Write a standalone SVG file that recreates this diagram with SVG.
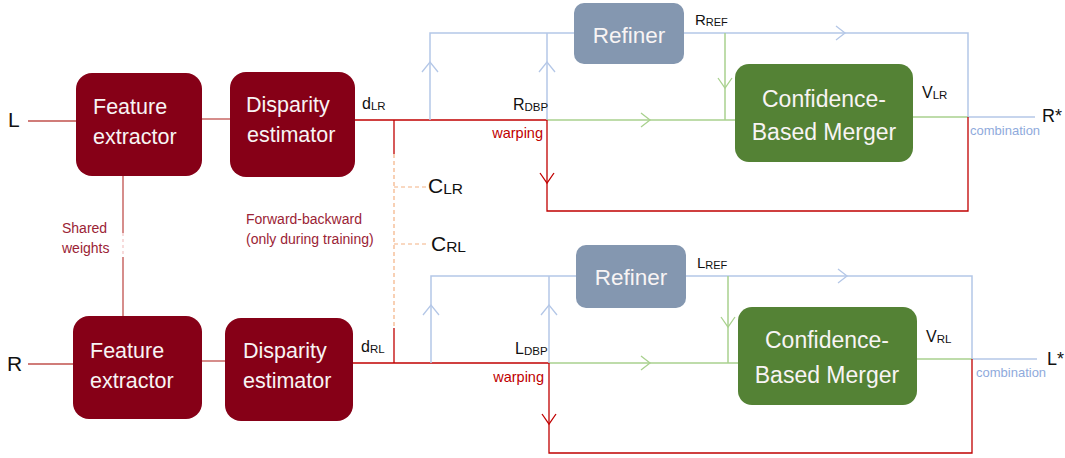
<svg xmlns="http://www.w3.org/2000/svg" width="1065" height="458" viewBox="0 0 1065 458">
<style>
text{font-family:"Liberation Sans",Arial,sans-serif}
.dr{fill:#860017}
.ref{fill:#8497b0}
.mg{fill:#548235}
.wt{fill:#f8f4f4}
.bk{fill:#111111}
.lr{stroke:#c0504d;stroke-width:1.3;fill:none}
.rd{stroke:#c00000;stroke-width:1.3;fill:none}
.bl{stroke:#b4c7e7;stroke-width:1.5;fill:none}
.gr{stroke:#a9d18e;stroke-width:1.5;fill:none}
.or{stroke:#f4b183;stroke-width:1.2;stroke-dasharray:4 3;fill:none}
.sw{stroke:#f2c4c4;stroke-width:1.2;stroke-dasharray:3 3;fill:none}
.ch{stroke-width:1.3;fill:none}
.nt{fill:#9b2335;font-size:14px}
</style>
<g id="connectors">
<line class="lr" x1="28" y1="121" x2="76" y2="121"/>
<line class="lr" x1="202" y1="119" x2="230" y2="119"/>
<line class="lr" x1="28" y1="364" x2="73" y2="364"/>
<line class="lr" x1="202" y1="361" x2="225" y2="361"/>
<line class="lr" x1="123" y1="176" x2="123" y2="233"/>
<line class="sw" x1="123" y1="233" x2="123" y2="257"/>
<line class="lr" x1="123" y1="257" x2="123" y2="316"/>
<line class="rd" x1="355" y1="120" x2="547" y2="120"/>
<line class="rd" x1="394" y1="120" x2="394" y2="154"/>
<line class="or" x1="394" y1="154" x2="394" y2="328"/>
<line class="or" x1="394" y1="187" x2="427" y2="187"/>
<line class="or" x1="394" y1="244" x2="427" y2="244"/>
<polyline class="bl" points="430,120 430,33 574,33"/>
<line class="bl" x1="547" y1="120" x2="547" y2="33"/>
<polyline class="bl" points="684,33 968,33 968,117"/>
<line class="bl" x1="968" y1="117" x2="1035" y2="117"/>
<line class="gr" x1="547" y1="120" x2="735" y2="120"/>
<line class="gr" x1="725" y1="33" x2="725" y2="120"/>
<line class="gr" x1="913" y1="117" x2="968" y2="117"/>
<polyline class="rd" points="968,117 968,211 547,211 547,120"/>
<polyline class="ch" stroke="#b4c7e7" points="422,72 430,62 438,72"/>
<polyline class="ch" stroke="#b4c7e7" points="539,72 547,62 555,72"/>
<polyline class="ch" stroke="#b4c7e7" points="836,26 845,33 836,40"/>
<polyline class="ch" stroke="#a9d18e" points="641,113 650,120 641,127"/>
<polyline class="ch" stroke="#a9d18e" points="718,78 725,88 732,78"/>
<polyline class="ch" stroke="#c00000" points="540,173 547,183 554,173"/>
<line class="rd" x1="353" y1="363" x2="549" y2="363"/>
<line class="rd" x1="394" y1="328" x2="394" y2="363"/>
<polyline class="bl" points="431,363 431,276 576,276"/>
<line class="bl" x1="549" y1="363" x2="549" y2="276"/>
<polyline class="bl" points="686,276 972,276 972,359"/>
<line class="bl" x1="972" y1="359" x2="1037" y2="359"/>
<line class="gr" x1="549" y1="363" x2="738" y2="363"/>
<line class="gr" x1="728" y1="276" x2="728" y2="363"/>
<line class="gr" x1="917" y1="359" x2="972" y2="359"/>
<polyline class="rd" points="972,359 972,453 549,453 549,363"/>
<polyline class="ch" stroke="#b4c7e7" points="423,315 431,305 439,315"/>
<polyline class="ch" stroke="#b4c7e7" points="541,315 549,305 557,315"/>
<polyline class="ch" stroke="#b4c7e7" points="838,269 847,276 838,283"/>
<polyline class="ch" stroke="#a9d18e" points="641,356 650,363 641,370"/>
<polyline class="ch" stroke="#a9d18e" points="721,317 728,327 735,317"/>
<polyline class="ch" stroke="#c00000" points="542,414 549,424 556,414"/>
</g>
<g id="fe1"><rect class="dr" x="76" y="73" width="126" height="103" rx="16"/>
<text class="wt" x="93" y="114" font-size="21.5">Feature</text><text class="wt" x="93" y="144" font-size="21.5">extractor</text></g>
<g id="de1"><rect class="dr" x="230" y="72" width="125" height="105" rx="16"/>
<text class="wt" x="246" y="112" font-size="21.5">Disparity</text><text class="wt" x="247" y="142" font-size="21.5">estimator</text></g>
<g id="fe2"><rect class="dr" x="73" y="316" width="129" height="103" rx="16"/>
<text class="wt" x="90" y="358" font-size="21.5">Feature</text><text class="wt" x="90" y="388" font-size="21.5">extractor</text></g>
<g id="de2"><rect class="dr" x="225" y="318" width="128" height="103" rx="16"/>
<text class="wt" x="243" y="358" font-size="21.5">Disparity</text><text class="wt" x="243" y="388" font-size="21.5">estimator</text></g>
<g id="refiner1"><rect class="ref" x="574" y="3" width="110" height="61" rx="10"/>
<text class="wt" x="629" y="43" font-size="22.5" text-anchor="middle">Refiner</text></g>
<g id="refiner2"><rect class="ref" x="576" y="245" width="110" height="63" rx="10"/>
<text class="wt" x="631" y="285" font-size="22.5" text-anchor="middle">Refiner</text></g>
<g id="merger1"><rect class="mg" x="735" y="64" width="178" height="98" rx="14"/>
<text class="wt" x="824" y="107" font-size="23" text-anchor="middle">Confidence-</text><text class="wt" x="824" y="140" font-size="23" text-anchor="middle">Based Merger</text></g>
<g id="merger2"><rect class="mg" x="738" y="307" width="179" height="98" rx="14"/>
<text class="wt" x="827" y="348" font-size="23" text-anchor="middle">Confidence-</text><text class="wt" x="827" y="383" font-size="23" text-anchor="middle">Based Merger</text></g>
<g id="labels">
<text class="bk" x="8" y="127" font-size="21">L</text>
<text class="bk" x="7" y="371" font-size="21">R</text>
<text class="bk" x="362" y="109" font-size="16">d<tspan font-size="11.5" dy="1">LR</tspan></text>
<text class="bk" x="361" y="352" font-size="16">d<tspan font-size="11.5" dy="1">RL</tspan></text>
<text class="bk" x="428" y="193" font-size="21">C<tspan font-size="15.5" dy="1">LR</tspan></text>
<text class="bk" x="431" y="251" font-size="21">C<tspan font-size="15.5" dy="1">RL</tspan></text>
<text class="bk" x="513" y="110" font-size="16">R<tspan font-size="11.5" dy="1">DBP</tspan></text>
<text class="bk" x="515" y="354" font-size="16">L<tspan font-size="11.5" dy="1">DBP</tspan></text>
<text class="bk" x="695" y="25" font-size="15">R<tspan font-size="11" dy="1">REF</tspan></text>
<text class="bk" x="697" y="268" font-size="15">L<tspan font-size="11" dy="1">REF</tspan></text>
<text class="bk" x="922" y="98" font-size="16">V<tspan font-size="11.5" dy="1">LR</tspan></text>
<text class="bk" x="926" y="342" font-size="16">V<tspan font-size="11.5" dy="1">RL</tspan></text>
<text class="bk" x="1042" y="122" font-size="18">R*</text>
<text class="bk" x="1047" y="365" font-size="18">L*</text>
<text x="543" y="138" font-size="14.5" fill="#c00000" text-anchor="end">warping</text>
<text x="544" y="382" font-size="14.5" fill="#c00000" text-anchor="end">warping</text>
<text x="970" y="135" font-size="13" fill="#8faadc">combination</text>
<text x="976" y="377" font-size="13" fill="#8faadc">combination</text>
<text class="nt" x="62" y="233">Shared</text>
<text class="nt" x="62" y="253">weights</text>
<text class="nt" x="246" y="224">Forward-backward</text>
<text class="nt" x="246" y="244">(only during training)</text>
</g>
</svg>
